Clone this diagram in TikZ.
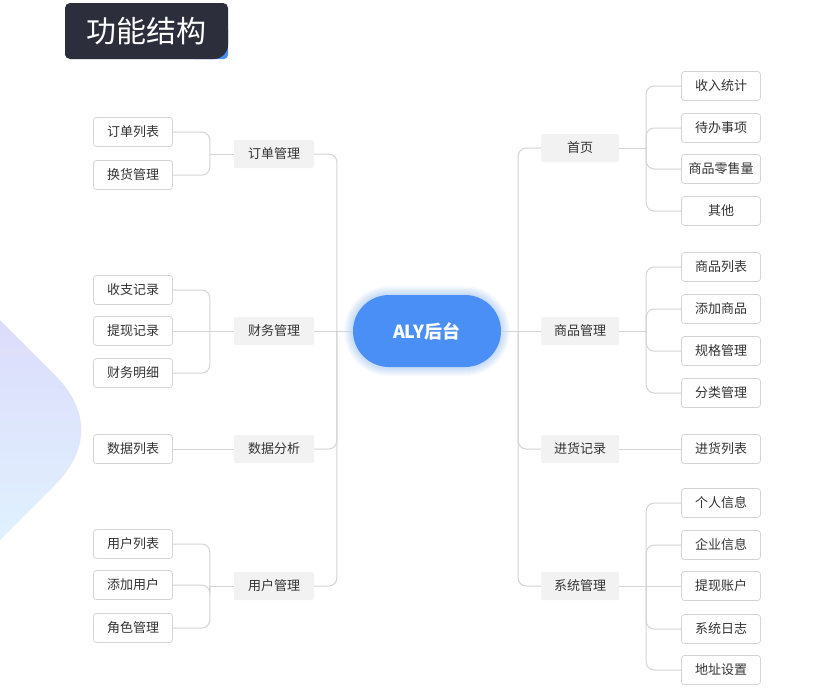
\documentclass[tikz,border=0pt]{standalone}
\usepackage{fontspec}
\setmainfont{Noto Sans CJK SC}
\usetikzlibrary{positioning}

\definecolor{linkgray}{HTML}{D4D4D4}
\definecolor{boxgray}{HTML}{F2F2F2}
\definecolor{txtgray}{HTML}{333333}
\definecolor{alyblue}{HTML}{4A8FF5}
\definecolor{titledark}{HTML}{2C2E3B}
\definecolor{decotop}{HTML}{DCDCFB}
\definecolor{decobottom}{HTML}{E0F1FE}

\tikzset{
  link/.style={draw=linkgray,line width=1pt,rounded corners=8pt},
  topic/.style={fill=boxgray,rounded corners=2pt,minimum width=80pt,minimum height=28pt,
    text=txtgray,font=\fontsize{13}{15}\selectfont},
  leaf/.style={draw=linkgray,fill=white,line width=0.8pt,rounded corners=3pt,minimum width=79pt,
    minimum height=29pt,text=txtgray,font=\fontsize{13}{15}\selectfont},
}

\begin{document}
\begin{tikzpicture}[x=1pt,y=-1pt]
  \useasboundingbox (0,0) rectangle (827,689);
  \fill[white] (0,0) rectangle (827,689);
  % decoration on the left
  \shade[top color=decotop,bottom color=decobottom]
    (0,320) -- (55,375) .. controls (90,410) and (90,450) .. (55,485) -- (0,540) -- cycle;
  % title
  \fill[alyblue,rounded corners=4pt] (190,25) rectangle (228,59);
  \fill[titledark] (65,59) [rounded corners=5pt] -- (65,3) -- (228,3)
    [rounded corners=14pt] -- (228,59) [rounded corners=5pt] -- (65,59) -- cycle;
  \node[text=white,font=\fontsize{30}{34}\selectfont](title)at(146,31){功能结构};

  % centre with a soft glow
  \foreach \g in {1,...,9}
    \fill[alyblue,opacity=0.035,rounded corners=36pt+\g pt] (353-\g,295-\g) rectangle (501+\g,367+\g);
  \node[fill=alyblue,rounded corners=36pt,minimum width=148pt,minimum height=72pt,
    text=white,font=\fontsize{18}{20}\selectfont\bfseries](aly)at(427,331){ALY后台};

  % left side
  \node[topic](order)at(274,154){订单管理};
  \node[topic](finance)at(274,331){财务管理};
  \node[topic](data)at(274,449){数据分析};
  \node[topic](user)at(274,586){用户管理};

  \node[leaf](orderlist)at(133,132){订单列表};
  \node[leaf](exchange)at(133,175){换货管理};
  \node[leaf](income)at(133,290){收支记录};
  \node[leaf](withdraw)at(133,331){提现记录};
  \node[leaf](detail)at(133,373){财务明细};
  \node[leaf](datalist)at(133,449){数据列表};
  \node[leaf](userlist)at(133,544){用户列表};
  \node[leaf](adduser)at(133,585){添加用户};
  \node[leaf](role)at(133,628){角色管理};

  % right side
  \node[topic,minimum width=78pt](home)at(580,148){首页};
  \node[topic,minimum width=78pt](goods)at(580,331){商品管理};
  \node[topic,minimum width=78pt](stock)at(580,449){进货记录};
  \node[topic,minimum width=78pt](system)at(580,586){系统管理};

  \node[leaf](revenue)at(721,86){收入统计};
  \node[leaf](todo)at(721,128){待办事项};
  \node[leaf](retail)at(721,169){商品零售量};
  \node[leaf](other)at(721,211){其他};
  \node[leaf](goodslist)at(721,267){商品列表};
  \node[leaf](addgoods)at(721,309){添加商品};
  \node[leaf](spec)at(721,351){规格管理};
  \node[leaf](category)at(721,393){分类管理};
  \node[leaf](stocklist)at(721,449){进货列表};
  \node[leaf](profile)at(721,503){个人信息};
  \node[leaf](company)at(721,545){企业信息};
  \node[leaf](account)at(721,586){提现账户};
  \node[leaf](log)at(721,629){系统日志};
  \node[leaf](address)at(721,670){地址设置};

  % trunks
  \coordinate (lt) at ([xshift=-16pt]aly.west);
  \coordinate (rt) at ([xshift=17pt]aly.east);
  \draw[link] (aly.west) -- (lt);
  \draw[link] (aly.east) -- (rt);
  \foreach \t in {order,data,user}
    \draw[link] (lt) |- (\t.east);
  \draw[link] (lt) -- (finance.east);
  \foreach \t in {home,stock,system}
    \draw[link] (rt) |- (\t.west);
  \draw[link] (rt) -- (goods.west);

  % branches
  \foreach \p/\kids in {order/{orderlist,exchange},finance/{income,detail},
      user/{userlist,adduser,role}}{
    \coordinate (\p-j) at ([xshift=-24pt]\p.west);
    \foreach \k in \kids
      \draw[link] (\p-j) |- (\k.east);
  }
  \draw[link] (order.west) -- (order-j);
  \draw[link] (user.west) -- (user-j);
  \draw[link] (finance.west) -- (withdraw.east);
  \draw[link] (data.west) -- (datalist.east);
  \foreach \p/\kids in {home/{revenue,todo,retail,other},goods/{goodslist,addgoods,spec,category},
      system/{profile,company,log,address}}{
    \coordinate (\p-j) at ([xshift=27pt]\p.east);
    \draw[link] (\p.east) -- (\p-j);
    \foreach \k in \kids
      \draw[link] (\p-j) |- (\k.west);
  }
  \draw[link] (system.east) -- (account.west);
  \draw[link] (stock.east) -- (stocklist.west);
\end{tikzpicture}
\end{document}
